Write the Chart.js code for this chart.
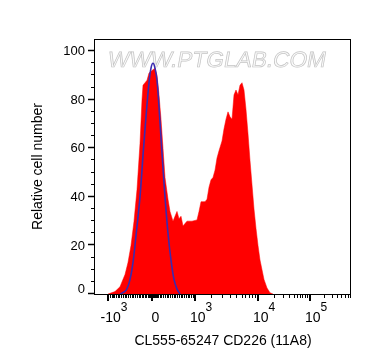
<!DOCTYPE html>
<html>
<head>
<meta charset="utf-8">
<script src="https://cdn.jsdelivr.net/npm/chart.js@4/dist/chart.umd.min.js"></script>
<style>
html,body{margin:0;padding:0;background:#fff;}
#wrap{width:372px;height:364px;}
</style>
</head>
<body>
<div id="wrap"><canvas id="c" width="372" height="364"></canvas></div>
<script>
// x values are display channels of the biexponential axis (0..1024)
const sampleX = [52,80,100,120,132,144,156,168,180,188,192,200,208,216,228,240,248,256,264,272,280,292,300,312,320,328,336,344,352,360,368,388,408,416,424,440,448,456,464,472,480,488,496,508,516,524,532,540,548,556,564,572,580,588,596,604,612,620,628,636,644,652,660,668,676,688,700,712];
const sampleY = [0,1,3,8,13,20,30,43,62,80,86,87,88,91,92,93,90,82,72,60,48,39,34,30,32,34,31,32,28,29,30,30,30.5,34,38,38,39,44,47,48,51,56,59,63,68,72,75,73,72,82,84,82,86,87,84,76,66,55,45,35,27,20,14,10,6,2.5,0.5,0];
const controlX = [100,124,140,152,164,180,192,204,216,224,232,240,248,256,268,280,292,304,316,328,340];
const controlY = [0,1.5,6,13,24,40,57,73,87,93,95,93,88,77,58,40,25,14,6,2,0];
// x axis ticks (channel positions and labels)
const majorTickPos = [52,226,400,652,860];
const majorTickBase = ["-10","0","10","10","10"];
const majorTickExp = ["3","","3","4","5"];
const minorTickPos = [60,66,71,76,83,90,97,104,111,118,125,132,139,146,153,160,167,174,180,186,192,198,204,210,214,218,222,230,234,238,242,246,252,258,265,272,279,286,293,300,307,314,321,328,335,342,349,356,363,370,377,384,391,
  462,508,541,565,586,601,615,627,639,
  714,752,776,794,808,819,829,838,846,
  914,946,968,985,1000,1012,1020];
const yMajor = [0,20,40,60,80,100];
const yMinorStep = 5;
const xTitle = "CL555-65247 CD226 (11A8)";
const yTitle = "Relative cell number";
const watermark = "WWW.PTGLAB.COM";

const FONT = "'Liberation Sans', Arial, sans-serif";

const decor = {
  id: 'decor',
  beforeDatasetsDraw(chart) {
    const ctx = chart.ctx, a = chart.chartArea;
    ctx.save();
    ctx.font = "22px " + FONT;
    const w = ctx.measureText(watermark).width;
    const sx = 218 / w;
    ctx.translate(a.left + 12, a.top + 28);
    ctx.transform(sx, 0, -0.18, 1, 0, 0);
    ctx.fillStyle = '#fafafa';
    ctx.strokeStyle = '#c4c4c4';
    ctx.lineWidth = 0.7;
    ctx.textBaseline = 'alphabetic';
    ctx.fillText(watermark, 0, 0);
    ctx.strokeText(watermark, 0, 0);
    ctx.restore();
  },
  afterDraw(chart) {
    const ctx = chart.ctx, a = chart.chartArea;
    const xs = chart.scales.x, ys = chart.scales.y;
    ctx.save();
    // frame
    ctx.strokeStyle = '#000';
    ctx.lineWidth = 1;
    ctx.strokeRect(a.left - 0.5, a.top + 0.5, a.right - a.left, a.bottom - a.top);
    // y ticks
    for (let v = 0; v <= 100; v += yMinorStep) {
      const y = Math.round(ys.getPixelForValue(v)) - 0.5;
      const major = yMajor.includes(v);
      ctx.lineWidth = major ? 1.5 : 1;
      ctx.beginPath();
      ctx.moveTo(a.left - (major ? 7 : 4), y);
      ctx.lineTo(a.left, y);
      ctx.stroke();
    }
    ctx.fillStyle = '#000';
    ctx.font = "13px " + FONT;
    ctx.textAlign = 'right';
    ctx.textBaseline = 'middle';
    yMajor.forEach(v => {
      let y = ys.getPixelForValue(v);
      if (v === 0) y -= 5;
      ctx.fillText(String(v), a.left - 10, y + 0.5);
    });
    // x ticks
    ctx.lineWidth = 1;
    minorTickPos.forEach(p => {
      const x = Math.round(xs.getPixelForValue(p)) + 0.5;
      ctx.beginPath();
      ctx.moveTo(x, a.bottom);
      ctx.lineTo(x, a.bottom + 4);
      ctx.stroke();
    });
    ctx.lineWidth = 2;
    majorTickPos.forEach(p => {
      const x = Math.round(xs.getPixelForValue(p));
      ctx.beginPath();
      ctx.moveTo(x, a.bottom);
      ctx.lineTo(x, a.bottom + 7);
      ctx.stroke();
    });
    // x labels with superscripts
    ctx.textAlign = 'left';
    ctx.textBaseline = 'alphabetic';
    majorTickPos.forEach((p, i) => {
      const x = xs.getPixelForValue(p);
      ctx.font = "14px " + FONT;
      const bw = ctx.measureText(majorTickBase[i]).width;
      ctx.font = "12px " + FONT;
      const ew = majorTickExp[i] ? ctx.measureText(majorTickExp[i]).width : 0;
      const total = bw + ew;
      const cx = x + (majorTickExp[i] ? 6 : 4);
      const left = cx - total / 2;
      ctx.font = "14px " + FONT;
      ctx.fillText(majorTickBase[i], left, 322);
      if (majorTickExp[i]) {
        ctx.font = "12px " + FONT;
        ctx.fillText(majorTickExp[i], left + bw, 311);
      }
    });
    // titles
    ctx.font = "14px " + FONT;
    ctx.textAlign = 'center';
    ctx.fillText(xTitle, (a.left + a.right) / 2, 345);
    ctx.translate(42, (a.top + a.bottom) / 2);
    ctx.rotate(-Math.PI / 2);
    ctx.fillText(yTitle, 0, 0);
    ctx.restore();
  }
};

const toPts = (xs, ys) => xs.map((x, i) => ({x: x, y: ys[i]}));

new Chart(document.getElementById('c'), {
  type: 'line',
  data: {
    datasets: [
      {
        label: 'Isotype control',
        data: toPts(controlX, controlY),
        borderColor: '#3a2bb0',
        borderWidth: 1.6,
        pointRadius: 0,
        fill: false,
        tension: 0.35
      },
      {
        label: 'CD226',
        data: toPts(sampleX, sampleY),
        borderColor: '#ff0000',
        backgroundColor: '#ff0000',
        borderWidth: 0.5,
        pointRadius: 0,
        fill: 'origin',
        tension: 0
      }
    ]
  },
  options: {
    responsive: false,
    animation: false,
    devicePixelRatio: 1,
    layout: {padding: {top: 39, right: 21, left: 0, bottom: 0}},
    plugins: {legend: {display: false}, tooltip: {enabled: false}},
    scales: {
      x: {
        type: 'linear', min: 0, max: 1024,
        grid: {display: false, drawTicks: false},
        border: {display: false},
        ticks: {display: false},
        afterFit(s) { s.height = 70; }
      },
      y: {
        type: 'linear', min: 0, max: 105,
        grid: {display: false, drawTicks: false},
        border: {display: false},
        ticks: {display: false},
        afterFit(s) { s.width = 95; }
      }
    }
  },
  plugins: [decor]
});
</script>
</body>
</html>
